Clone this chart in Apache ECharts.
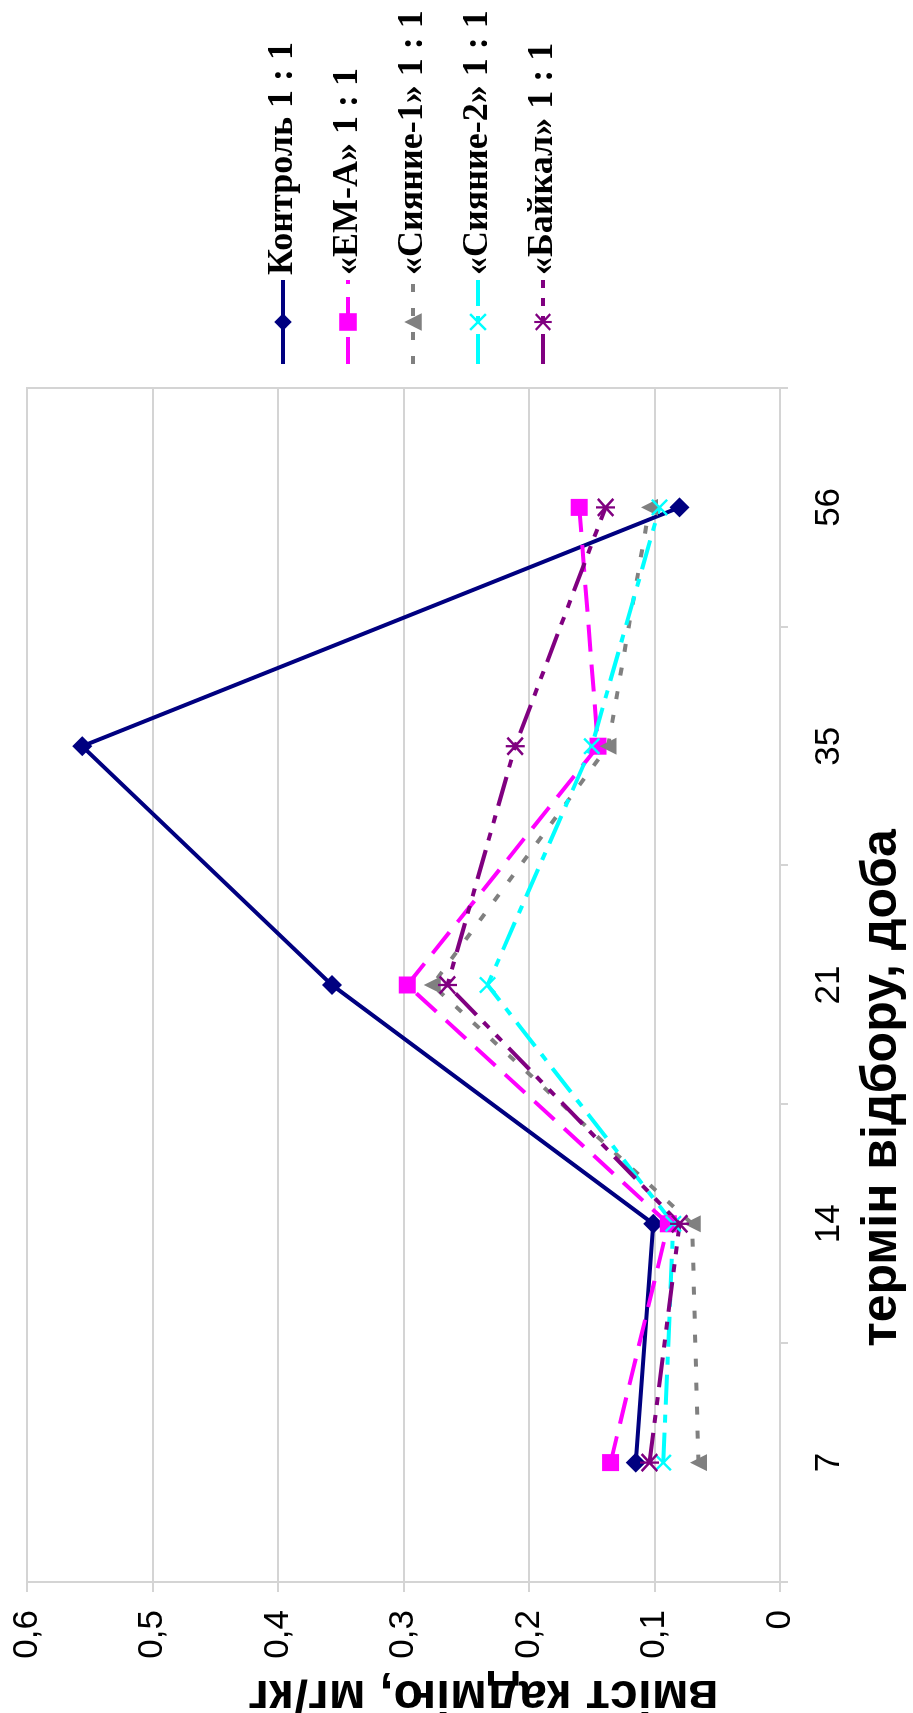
<!DOCTYPE html>
<html><head><meta charset="utf-8">
<script src="https://cdn.jsdelivr.net/npm/echarts@6/dist/echarts.min.js"></script>
<style>
html,body{margin:0;padding:0;background:#fff;overflow:hidden;width:913px;height:1713px;}
#wrap{position:absolute;left:0;top:0;width:1713px;height:913px;transform-origin:0 0;transform:translate(0px,1713px) rotate(-90deg);}
#chart{width:1713px;height:913px;}
</style></head><body>
<div id="wrap"><div id="chart"></div></div>
<script>
const categories = ['7', '14', '21', '35', '56'];
const seriesNames = ['Контроль 1 : 1', '«ЕМ-А» 1 : 1', '«Сияние-1» 1 : 1', '«Сияние-2» 1 : 1', '«Байкал» 1 : 1'];
const control  = [0.115, 0.101, 0.357, 0.556, 0.080];
const emA      = [0.135, 0.089, 0.297, 0.145, 0.160];
const siyanie1 = [0.065, 0.070, 0.277, 0.137, 0.104];
const siyanie2 = [0.093, 0.085, 0.233, 0.150, 0.096];
const baikal   = [0.104, 0.080, 0.265, 0.211, 0.139];
const xTitle = 'термін відбору, доба';
const yTitle = 'вміст кадмію, мг/кг';

const X_PATH = 'path://M0,1L1,0L5,4L9,0L10,1L6,5L10,9L9,10L5,6L1,10L0,9L4,5Z';
const AST_PATH = 'path://M0,1L1,0L5,4L9,0L10,1L6,5L10,9L9,10L5,6L1,10L0,9L4,5Z M4.4,-0.5L5.6,-0.5L5.6,10.5L4.4,10.5Z';

const chart = echarts.init(document.getElementById('chart'), null, {renderer: 'canvas'});
function mk(name, data, color, symbol, size, dash) {
  return {
    name: name, type: 'line', data: data,
    symbol: symbol, symbolSize: size,
    itemStyle: {color: color},
    lineStyle: {color: color, width: 4, type: dash},
    emphasis: {disabled: true},
    animation: false
  };
}
chart.setOption({
  backgroundColor: '#ffffff',
  animation: false,
  grid: {left: 131, right: 388, top: 27, bottom: 133, containLabel: false, outerBoundsMode: 'none',
         show: true, borderColor: '#d4d4d4', borderWidth: 2},
  legend: {
    orient: 'vertical', left: 1342, top: 258,
    itemWidth: 84, itemHeight: 22, itemGap: 25,
    lineStyle: {width: 4},
    textStyle: {fontFamily: 'Liberation Serif', fontWeight: 'bold', fontSize: 36, color: '#000', lineHeight: 40},
    data: seriesNames
  },
  xAxis: {
    type: 'category', data: categories, boundaryGap: true,
    axisLine: {show: true, lineStyle: {color: '#d4d4d4', width: 2}},
    axisTick: {show: true, length: 8, lineStyle: {color: '#d4d4d4', width: 2}},
    axisLabel: {fontFamily: 'Liberation Sans', fontSize: 35, color: '#000', margin: 32},
    name: xTitle, nameLocation: 'middle', nameGap: 77, nameMoveOverlap: false,
    nameTextStyle: {fontFamily: 'Liberation Sans', fontWeight: 'bold', fontSize: 50, color: '#000', padding: [0, 206, 0, 0]}
  },
  yAxis: {
    type: 'value', min: 0, max: 0.6, interval: 0.1,
    axisLine: {show: true, lineStyle: {color: '#d4d4d4', width: 2}},
    axisTick: {show: true, length: 10, lineStyle: {color: '#d4d4d4', width: 2}},
    splitLine: {show: true, lineStyle: {color: '#d4d4d4', width: 2}},
    axisLabel: {fontFamily: 'Liberation Sans', fontSize: 35, color: '#000', margin: 28,
      formatter: function (v) { return v === 0 ? '0' : v.toFixed(1).replace('.', ','); }},
    name: yTitle, nameLocation: 'middle', nameRotate: 90, nameGap: 88, nameMoveOverlap: false,
    nameTextStyle: {fontFamily: 'Liberation Sans', fontWeight: 'bold', fontSize: 50, color: '#000', padding: [0, 160, 0, 0]}
  },
  series: [
    mk(seriesNames[0], control, '#000080', 'diamond', 20, 'solid'),
    mk(seriesNames[1], emA, '#ff00ff', 'rect', 17, [27, 13]),
    mk(seriesNames[2], siyanie1, '#808080', 'triangle', 17, [8, 16]),
    mk(seriesNames[3], siyanie2, '#00ffff', X_PATH, 17, [30, 10, 8, 10]),
    mk(seriesNames[4], baikal, '#800080', AST_PATH, 19, [30, 10, 8, 10, 8, 10])
  ]
});
</script>
</body></html>
